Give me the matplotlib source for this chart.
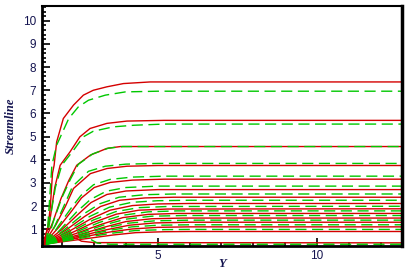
import matplotlib
matplotlib.use("Agg")
import matplotlib.pyplot as plt
from matplotlib.ticker import MultipleLocator

# streamlines (x along "Y" axis, y = streamline height)
red_x = [
    [1.40, 1.55, 1.62, 1.69, 1.74, 1.82, 2.03, 2.35, 2.66, 2.97, 3.40, 3.92, 4.76, 12.7],
    [1.40, 1.62, 1.76, 1.93, 2.24, 2.55, 2.87, 3.40, 4.03, 5.20, 12.7],
    [1.40, 1.70, 1.95, 2.20, 2.45, 2.88, 3.40, 3.83, 12.7],
    [1.40, 1.80, 2.10, 2.35, 2.88, 3.40, 4.03, 5.00, 12.7],
    [1.40, 1.90, 2.30, 2.60, 3.00, 3.50, 4.20, 5.20, 12.7],
    [1.40, 2.00, 2.50, 2.90, 3.40, 4.00, 5.00, 12.7],
    [1.40, 2.10, 2.70, 3.20, 3.80, 4.60, 5.50, 12.7],
    [1.40, 2.20, 2.90, 3.50, 4.20, 5.00, 6.00, 12.7],
    [1.40, 2.30, 3.00, 3.70, 4.40, 5.30, 12.7],
    [1.40, 2.40, 3.20, 3.90, 4.70, 5.60, 12.7],
    [1.40, 2.50, 3.30, 4.00, 4.80, 5.80, 12.7],
    [1.40, 2.60, 3.40, 4.10, 4.90, 6.00, 12.7],
    [1.40, 2.70, 3.50, 4.20, 5.00, 6.00, 12.7],
    [1.40, 2.80, 3.60, 4.30, 5.20, 6.00, 12.7],
    [2.45, 2.60, 3.00, 12.7],
]
red_y = [
    [0.35, 1.10, 1.96, 3.42, 3.76, 4.77, 5.78, 6.36, 6.79, 7.00, 7.15, 7.29, 7.36, 7.36],
    [0.35, 1.50, 2.80, 3.76, 4.34, 4.99, 5.35, 5.57, 5.67, 5.70, 5.70],
    [0.35, 1.30, 2.30, 3.10, 3.76, 4.20, 4.49, 4.57, 4.57],
    [0.35, 1.20, 2.00, 2.76, 3.40, 3.62, 3.72, 3.75, 3.75],
    [0.35, 1.10, 1.80, 2.35, 2.80, 3.02, 3.12, 3.16, 3.16],
    [0.35, 1.00, 1.65, 2.15, 2.50, 2.65, 2.71, 2.71],
    [0.35, 0.95, 1.55, 1.98, 2.25, 2.35, 2.38, 2.38],
    [0.35, 0.90, 1.45, 1.82, 2.02, 2.09, 2.11, 2.11],
    [0.35, 0.85, 1.30, 1.65, 1.82, 1.87, 1.88],
    [0.35, 0.80, 1.20, 1.50, 1.64, 1.68, 1.68],
    [0.35, 0.75, 1.08, 1.33, 1.45, 1.48, 1.48],
    [0.35, 0.72, 0.98, 1.17, 1.27, 1.30, 1.30],
    [0.35, 0.68, 0.88, 1.01, 1.08, 1.10, 1.10],
    [0.35, 0.60, 0.75, 0.85, 0.89, 0.90, 0.90],
    [0.60, 0.48, 0.42, 0.41],
]

green_x = [
    [1.50, 1.56, 1.67, 1.82, 2.20, 2.50, 2.82, 3.35, 3.98, 5.00, 12.7],
    [1.50, 1.62, 1.78, 1.98, 2.35, 2.66, 2.97, 3.60, 4.25, 5.20, 12.7],
    [1.50, 1.72, 1.98, 2.25, 2.50, 2.95, 3.45, 3.90, 12.7],
    [1.50, 1.80, 2.08, 2.32, 2.82, 3.35, 4.00, 5.00, 12.7],
    [1.50, 1.88, 2.27, 2.58, 2.98, 3.50, 4.20, 5.20, 12.7],
    [1.50, 1.98, 2.45, 2.88, 3.38, 4.00, 5.00, 12.7],
    [1.50, 2.08, 2.66, 3.18, 3.78, 4.60, 5.50, 12.7],
    [1.50, 2.18, 2.86, 3.48, 4.18, 5.00, 6.00, 12.7],
    [1.50, 2.28, 2.98, 3.68, 4.40, 5.30, 12.7],
    [1.50, 2.38, 3.18, 3.88, 4.70, 5.60, 12.7],
    [1.50, 2.48, 3.28, 3.98, 4.80, 5.80, 12.7],
    [1.50, 2.58, 3.38, 4.08, 4.90, 6.00, 12.7],
    [1.50, 2.68, 3.48, 4.18, 5.00, 6.00, 12.7],
    [1.50, 2.78, 3.58, 4.28, 5.20, 6.00, 12.7],
    [2.90, 3.10, 3.50, 12.7],
]
green_y = [
    [0.35, 1.50, 3.76, 4.63, 5.78, 6.28, 6.57, 6.79, 6.93, 6.96, 6.96],
    [0.35, 1.50, 2.80, 3.76, 4.41, 4.99, 5.23, 5.42, 5.49, 5.54, 5.54],
    [0.35, 1.35, 2.35, 3.15, 3.80, 4.25, 4.50, 4.57, 4.57],
    [0.35, 1.25, 2.10, 2.85, 3.50, 3.72, 3.81, 3.84, 3.84],
    [0.35, 1.15, 1.90, 2.45, 2.92, 3.15, 3.25, 3.29, 3.29],
    [0.35, 1.05, 1.75, 2.28, 2.64, 2.80, 2.86, 2.86],
    [0.35, 1.00, 1.65, 2.10, 2.38, 2.49, 2.52, 2.52],
    [0.35, 0.95, 1.55, 1.95, 2.16, 2.23, 2.25, 2.25],
    [0.35, 0.90, 1.40, 1.76, 1.93, 1.98, 1.99],
    [0.35, 0.85, 1.30, 1.60, 1.75, 1.79, 1.79],
    [0.35, 0.80, 1.17, 1.43, 1.56, 1.59, 1.59],
    [0.35, 0.76, 1.06, 1.26, 1.36, 1.39, 1.39],
    [0.35, 0.72, 0.95, 1.10, 1.17, 1.19, 1.19],
    [0.35, 0.66, 0.83, 0.94, 0.98, 0.99, 0.99],
    [0.55, 0.40, 0.35, 0.35],
]

fig = plt.figure(figsize=(4.16, 2.75), dpi=100)
ax = fig.add_axes([0.101, 0.106, 0.865, 0.873])

for xs, ys in zip(red_x, red_y):
    ax.plot(xs, ys, color="#d40000", lw=1.0)
for xs, ys in zip(green_x, green_y):
    ax.plot(xs, ys, color="#00c800", lw=1.0, dashes=(8, 4))

ax.set_xlim(1.36, 12.67)
ax.set_ylim(0.28, 10.65)

ax.xaxis.set_major_locator(MultipleLocator(5))
ax.xaxis.set_minor_locator(MultipleLocator(1))
ax.yaxis.set_major_locator(MultipleLocator(1))
ax.yaxis.set_minor_locator(MultipleLocator(0.2))
ax.tick_params(which="both", direction="in", colors="black", labelcolor="#141450",
               labelsize=8.5, width=1.2)
ax.tick_params(which="major", length=6, pad=4)
ax.tick_params(which="minor", length=3)
ax.tick_params(axis="x", pad=3)

for lab in ax.get_xticklabels() + ax.get_yticklabels():
    lab.set_family("Liberation Sans")

ax.spines["left"].set_linewidth(2.0)
ax.spines["bottom"].set_linewidth(2.0)
ax.spines["right"].set_linewidth(2.5)
ax.spines["top"].set_linewidth(1.5)

ax.set_xlabel("Y", family="Liberation Serif", style="italic", weight="bold",
              fontsize=9, color="#141450", labelpad=-3)
ax.set_ylabel("Streamline", family="Liberation Serif", style="italic", weight="bold",
              fontsize=9, color="#141450", labelpad=5)

fig.savefig("out.png", dpi=100)
